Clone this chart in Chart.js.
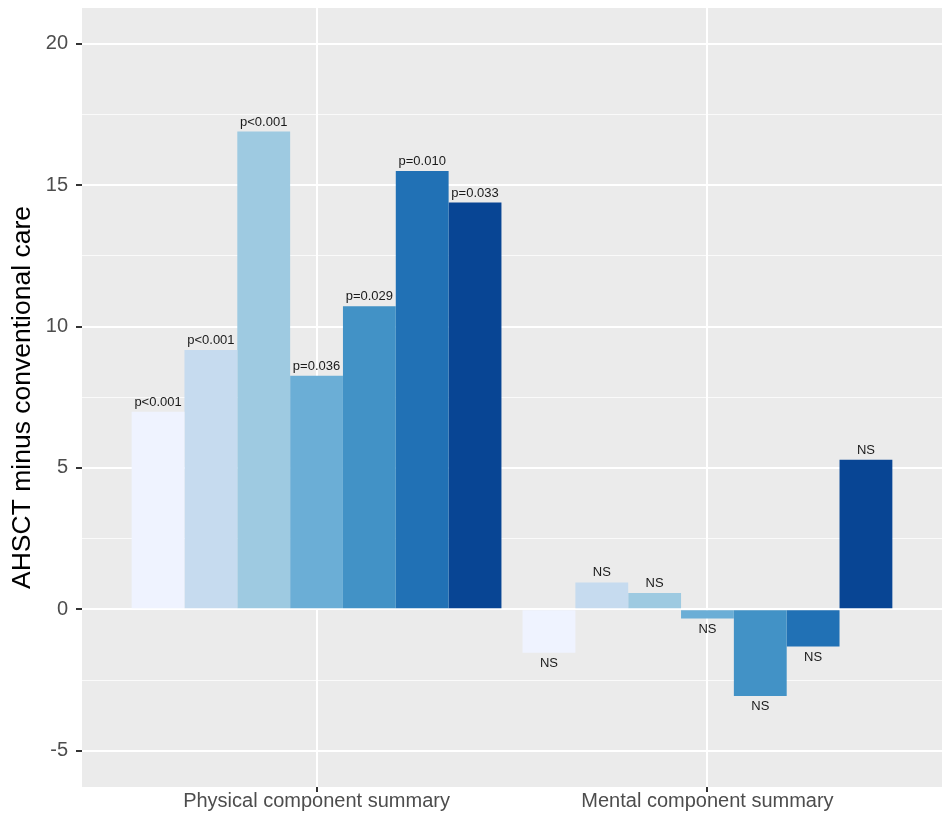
<!DOCTYPE html>
<html>
<head>
<meta charset="utf-8">
<script src="https://cdn.jsdelivr.net/npm/chart.js@4.4.1/dist/chart.umd.min.js"></script>
<style>
  html, body { margin: 0; padding: 0; background: #fff; }
</style>
</head>
<body>
<canvas id="chart" width="951" height="819"></canvas>
<script>
  // Data
  var categories = ['Physical component summary', 'Mental component summary'];
  var physicalValues = [6.99, 9.17, 16.89, 8.26, 10.72, 15.50, 14.38];
  var mentalValues = [-1.53, 0.95, 0.58, -0.32, -3.06, -1.31, 5.29];
  var physicalLabels = ['p<0.001', 'p<0.001', 'p<0.001', 'p=0.036', 'p=0.029', 'p=0.010', 'p=0.033'];
  var mentalLabels = ['NS', 'NS', 'NS', 'NS', 'NS', 'NS', 'NS'];
  var barColors = ['#EFF3FF', '#C6DBEF', '#9ECAE1', '#6BAED6', '#4292C6', '#2171B5', '#084594'];
  var yTicks = [-5, -2.5, 0, 2.5, 5, 7.5, 10, 12.5, 15, 17.5, 20];
  var yTitle = 'AHSCT minus conventional care';

  Chart.defaults.font.family = '"Liberation Sans", Arial, sans-serif';

  function isMajor(ctx) {
    return ctx.tick && ctx.tick.value % 5 === 0;
  }

  var datasets = barColors.map(function (color, i) {
    return {
      label: 'Group ' + (i + 1),
      data: [
        { x: 1, y: physicalValues[i] },
        { x: 2, y: mentalValues[i] }
      ],
      textLabels: [physicalLabels[i], mentalLabels[i]],
      backgroundColor: color,
      borderWidth: 0,
      barPercentage: 1,
      categoryPercentage: 0.946
    };
  });

  var panelBg = {
    id: 'panelBg',
    beforeDraw: function (chart) {
      var c = chart.ctx, a = chart.chartArea;
      c.save();
      c.fillStyle = '#fff';
      c.fillRect(0, 0, chart.width, chart.height);
      c.fillStyle = '#EBEBEB';
      c.fillRect(a.left, a.top, a.right - a.left, a.bottom - a.top);
      c.restore();
    }
  };

  var barText = {
    id: 'barText',
    afterDatasetsDraw: function (chart) {
      var c = chart.ctx;
      c.save();
      c.font = '13px "Liberation Sans", Arial, sans-serif';
      c.fillStyle = '#1a1a1a';
      c.textAlign = 'center';
      c.textBaseline = 'alphabetic';
      chart.data.datasets.forEach(function (ds, di) {
        var meta = chart.getDatasetMeta(di);
        meta.data.forEach(function (bar, j) {
          var v = ds.data[j].y;
          var y = v >= 0 ? bar.y - 6 : bar.y + 14.5;
          c.fillText(ds.textLabels[j], bar.x, y);
        });
      });
      c.restore();
    }
  };

  new Chart(document.getElementById('chart'), {
    type: 'bar',
    data: { datasets: datasets },
    options: {
      responsive: false,
      animation: false,
      devicePixelRatio: 1,
      layout: { padding: { left: 0, top: 8, right: 9, bottom: 0 } },
      plugins: {
        legend: { display: false },
        tooltip: { enabled: false }
      },
      scales: {
        x: {
          type: 'linear',
          min: 0.4,
          max: 2.6,
          offset: false,
          grid: {
            offset: false,
            color: '#fff',
            lineWidth: 2,
            tickColor: '#333',
            tickLength: 5
          },
          border: { display: false },
          ticks: {
            autoSkip: false,
            maxRotation: 0,
            padding: -3,
            color: '#4D4D4D',
            font: { size: 20 },
            callback: function (v) { return categories[v - 1] || ''; }
          },
          afterBuildTicks: function (scale) {
            scale.ticks = [{ value: 1 }, { value: 2 }];
          },
          afterFit: function (scale) {
            scale.height = 32;
            scale.paddingLeft = 0;
            scale.paddingRight = 0;
          }
        },
        y: {
          min: -6.28,
          max: 21.26,
          grid: {
            color: function (ctx) { return isMajor(ctx) ? '#fff' : 'rgba(255,255,255,0.75)'; },
            lineWidth: function (ctx) { return isMajor(ctx) ? 2 : 1; },
            tickColor: function (ctx) { return isMajor(ctx) ? '#333' : 'rgba(0,0,0,0)'; },
            tickLength: 6
          },
          border: { display: false },
          ticks: {
            autoSkip: false,
            padding: 8,
            color: '#4D4D4D',
            font: { size: 20 },
            callback: function (v) { return v % 5 === 0 ? String(v) : ''; }
          },
          afterBuildTicks: function (scale) {
            scale.ticks = yTicks.map(function (v) { return { value: v }; });
          },
          afterFit: function (scale) {
            scale.width = 82;
            scale.paddingTop = 0;
            scale.paddingBottom = 0;
          },
          title: {
            display: true,
            text: yTitle,
            color: '#000',
            font: { size: 26.5 },
            padding: { top: 7, bottom: 0 }
          }
        }
      }
    },
    plugins: [panelBg, barText]
  });
</script>
</body>
</html>
